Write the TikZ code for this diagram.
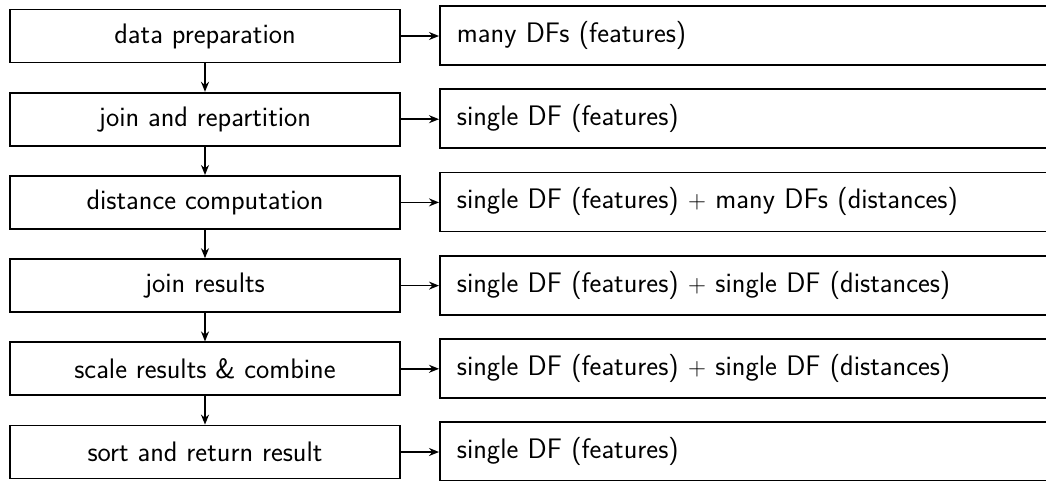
\documentclass[tikz,border=0pt]{standalone}
\usetikzlibrary{arrows.meta}
\begin{document}
\begin{tikzpicture}[x=1pt,y=-1pt,
  every node/.style={font=\fontsize{28.2}{33}\selectfont\sffamily},
  stepbox/.style={draw,line width=1.8pt,minimum width=390pt,minimum height=53pt,inner sep=0pt,anchor=center},
  outbox/.style={draw,line width=1.8pt,minimum width=640pt,minimum height=59pt,inner sep=0pt,text width=606pt,align=left,anchor=west},
  arr/.style={line width=1.6pt,-{Stealth[length=10pt,width=8pt]}}]
\clip (0,0) rectangle (1046,480);
\useasboundingbox (0,0) rectangle (1046,480);
\foreach \i/\a/\b in {1/data preparation/many DFs (features),
  2/join and repartition/single DF (features),
  3/distance computation/single DF (features) $+$ many DFs (distances),
  4/join results/single DF (features) $+$ single DF (distances),
  5/scale results \& combine/single DF (features) $+$ single DF (distances),
  6/sort and return result/single DF (features)}{
  \node[stepbox] (L\i) at (205,{36+(\i-1)*83.2}) {\a};
  \node[outbox] (R\i) at (439,{35.5+(\i-1)*83.2}) {\b};
  \draw[arr] (L\i.east) -- (R\i.west |- L\i.east);
}
\foreach \i [evaluate=\i as \j using int(\i+1)] in {1,...,5}{
  \draw[arr] (L\i.south) -- (L\j.north);
}
\end{tikzpicture}
\end{document}
